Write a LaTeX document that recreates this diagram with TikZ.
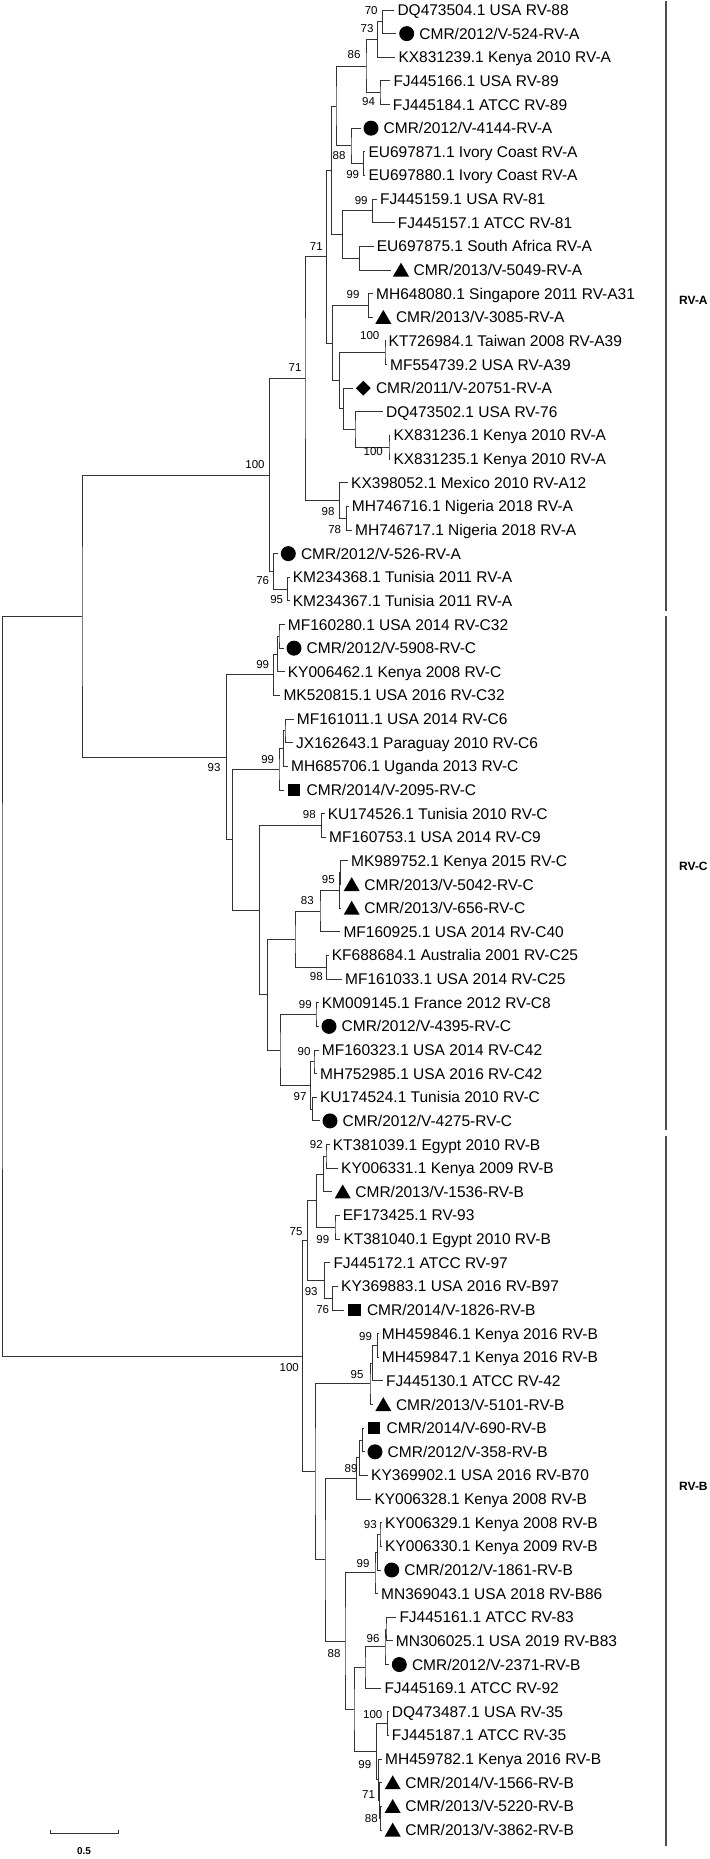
\documentclass[tikz,border=0pt]{standalone}
\usepackage{fontspec}
\setmainfont{Liberation Sans}
\usetikzlibrary{calc,shapes.geometric}
\tikzset{
 br/.style={draw=black!80, line width=0.9pt},
 lab/.style={anchor=base west, inner sep=0pt, font=\fontsize{15.5}{18}\selectfont},
 bs/.style={inner sep=0pt, font=\fontsize{11.5}{13}\selectfont},
 mcirc/.style={circle, fill=black, inner sep=0pt, minimum size=15pt},
 mtri/.style={regular polygon, regular polygon sides=3, fill=black, inner sep=0pt, minimum size=18.5pt, yshift=-1.9pt},
 msq/.style={rectangle, fill=black, inner sep=0pt, minimum size=12.5pt},
 mdia/.style={diamond, fill=black, inner sep=0pt, minimum width=15pt, minimum height=15pt},
 grp/.style={line width=1.6pt, draw=black!70},
 grplab/.style={anchor=west, inner sep=0pt, font=\bfseries\fontsize{12}{14}\selectfont},
 sclab/.style={inner sep=0pt, font=\bfseries\fontsize{10}{12}\selectfont},
}
\newcommand\ly[1]{10+(#1-1)*23.636}
\newcommand\lf[3]{\coordinate (l#1) at (#2,{\ly{#1}}); \node[lab] (t#1) at ([xshift=3pt,yshift=-5.5pt]l#1) {#3};}
\newcommand\lm[4]{\coordinate (l#1) at (#2,{\ly{#1}}); \node[#3] (k#1) at ([xshift=10.5pt]l#1) {}; \node[lab] (t#1) at ([xshift=23pt,yshift=-5.5pt]l#1) {#4};}
\newcommand\inode[4]{%
 \coordinate (m#1) at ($(#3)!0.5!(#4)$);
 \path let \p1=(m#1) in coordinate (#1) at (#2pt,\y1);
 \draw[br] (#3) -| (#1) |- (#4);
}
\newcommand\bsl[4]{\node[bs] (#1) at (#2,#3) {#4};}
\begin{document}
\begin{tikzpicture}[x=1pt,y=-1pt]
\useasboundingbox (0,0) rectangle (709,1859);
% RV-A leaves
\lf{1}{394.3}{DQ473504.1 USA RV-88}
\lm{2}{396.2}{mcirc}{CMR/2012/V-524-RV-A}
\lf{3}{395.3}{KX831239.1 Kenya 2010 RV-A}
\lf{4}{390.3}{FJ445166.1 USA RV-89}
\lf{5}{389.7}{FJ445184.1 ATCC RV-89}
\lm{6}{360.5}{mcirc}{CMR/2012/V-4144-RV-A}
\lf{7}{365.3}{EU697871.1 Ivory Coast RV-A}
\lf{8}{365.3}{EU697880.1 Ivory Coast RV-A}
\lf{9}{377}{FJ445159.1 USA RV-81}
\lf{10}{394.7}{FJ445157.1 ATCC RV-81}
\lf{11}{373.7}{EU697875.1 South Africa RV-A}
\lm{12}{390.5}{mtri}{CMR/2013/V-5049-RV-A}
\lf{13}{373}{MH648080.1 Singapore 2011 RV-A31}
\lm{14}{372.8}{mtri}{CMR/2013/V-3085-RV-A}
\lf{15}{385.5}{KT726984.1 Taiwan 2008 RV-A39}
\lf{16}{387}{MF554739.2 USA RV-A39}
\lm{17}{352.8}{mdia}{CMR/2011/V-20751-RV-A}
\lf{18}{383}{DQ473502.1 USA RV-76}
\lf{19}{390.3}{KX831236.1 Kenya 2010 RV-A}
\lf{20}{390.3}{KX831235.1 Kenya 2010 RV-A}
\lf{21}{348}{KX398052.1 Mexico 2010 RV-A12}
\lf{22}{348.7}{MH746716.1 Nigeria 2018 RV-A}
\lf{23}{352}{MH746717.1 Nigeria 2018 RV-A}
\lm{24}{277.8}{mcirc}{CMR/2012/V-526-RV-A}
\lf{25}{289.7}{KM234368.1 Tunisia 2011 RV-A}
\lf{26}{289.7}{KM234367.1 Tunisia 2011 RV-A}
% RV-C leaves
\lf{27}{284.7}{MF160280.1 USA 2014 RV-C32}
\lm{28}{283.5}{mcirc}{CMR/2012/V-5908-RV-C}
\lf{29}{284.7}{KY006462.1 Kenya 2008 RV-C}
\lf{30}{280.3}{MK520815.1 USA 2016 RV-C32}
\lf{31}{293.7}{MF161011.1 USA 2014 RV-C6}
\lf{32}{293}{JX162643.1 Paraguay 2010 RV-C6}
\lf{33}{288}{MH685706.1 Uganda 2013 RV-C}
\lm{34}{283.5}{msq}{CMR/2014/V-2095-RV-C}
\lf{35}{324.7}{KU174526.1 Tunisia 2010 RV-C}
\lf{36}{326}{MF160753.1 USA 2014 RV-C9}
\lf{37}{348}{MK989752.1 Kenya 2015 RV-C}
\lm{38}{341.2}{mtri}{CMR/2013/V-5042-RV-C}
\lm{39}{341.2}{mtri}{CMR/2013/V-656-RV-C}
\lf{40}{340.3}{MF160925.1 USA 2014 RV-C40}
\lf{41}{328.7}{KF688684.1 Australia 2001 RV-C25}
\lf{42}{342}{MF161033.1 USA 2014 RV-C25}
\lf{43}{318.7}{KM009145.1 France 2012 RV-C8}
\lm{44}{318.5}{mcirc}{CMR/2012/V-4395-RV-C}
\lf{45}{318.7}{MF160323.1 USA 2014 RV-C42}
\lf{46}{317}{MH752985.1 USA 2016 RV-C42}
\lf{47}{317}{KU174524.1 Tunisia 2010 RV-C}
\lm{48}{319.5}{mcirc}{CMR/2012/V-4275-RV-C}
% RV-B leaves
\lf{49}{329.7}{KT381039.1 Egypt 2010 RV-B}
\lf{50}{338}{KY006331.1 Kenya 2009 RV-B}
\lm{51}{332.2}{mtri}{CMR/2013/V-1536-RV-B}
\lf{52}{339.7}{EF173425.1 RV-93}
\lf{53}{340.3}{KT381040.1 Egypt 2010 RV-B}
\lf{54}{330.3}{FJ445172.1 ATCC RV-97}
\lf{55}{338}{KY369883.1 USA 2016 RV-B97}
\lm{56}{343.8}{msq}{CMR/2014/V-1826-RV-B}
\lf{57}{378.7}{MH459846.1 Kenya 2016 RV-B}
\lf{58}{378.7}{MH459847.1 Kenya 2016 RV-B}
\lf{59}{383}{FJ445130.1 ATCC RV-42}
\lm{60}{372.8}{mtri}{CMR/2013/V-5101-RV-B}
\lm{61}{363.5}{msq}{CMR/2014/V-690-RV-B}
\lm{62}{364.5}{mcirc}{CMR/2012/V-358-RV-B}
\lf{63}{368}{KY369902.1 USA 2016 RV-B70}
\lf{64}{371.3}{KY006328.1 Kenya 2008 RV-B}
\lf{65}{382}{KY006329.1 Kenya 2008 RV-B}
\lf{66}{382}{KY006330.1 Kenya 2009 RV-B}
\lm{67}{381.2}{mcirc}{CMR/2012/V-1861-RV-B}
\lf{68}{378}{MN369043.1 USA 2018 RV-B86}
\lf{69}{396.3}{FJ445161.1 ATCC RV-83}
\lf{70}{392.7}{MN306025.1 USA 2019 RV-B83}
\lm{71}{388.8}{mcirc}{CMR/2012/V-2371-RV-B}
\lf{72}{381.3}{FJ445169.1 ATCC RV-92}
\lf{73}{388.7}{DQ473487.1 USA RV-35}
\lf{74}{388.7}{FJ445187.1 ATCC RV-35}
\lf{75}{382}{MH459782.1 Kenya 2016 RV-B}
\lm{76}{382.2}{mtri}{CMR/2014/V-1566-RV-B}
\lm{77}{382.2}{mtri}{CMR/2013/V-5220-RV-B}
\lm{78}{382.2}{mtri}{CMR/2013/V-3862-RV-B}
% RV-A internal nodes
\inode{a70}{382.3}{l1}{l2}
\inode{a73}{377.7}{a70}{l3}
\inode{a94}{380}{l4}{l5}
\inode{a86}{366}{a73}{a94}
\inode{aIv}{363.3}{l7}{l8}
\inode{a4144}{351}{l6}{aIv}
\inode{a336}{336}{a86}{a4144}
\inode{a81}{372.7}{l9}{l10}
\inode{aSA}{359.3}{l11}{l12}
\inode{a342}{342.7}{a81}{aSA}
\inode{aA3}{331.7}{a336}{a342}
\inode{aSg}{368.3}{l13}{l14}
\inode{aTw}{385}{l15}{l16}
\inode{aKe}{389}{l19}{l20}
\inode{aDQ}{355}{l18}{aKe}
\inode{a580}{343.3}{l17}{aDQ}
\inode{a568}{339.3}{aTw}{a580}
\inode{a548}{332.7}{aSg}{a568}
\inode{a326}{326.7}{aA3}{a548}
\inode{aNg}{346.7}{l22}{l23}
\inode{aMx}{339.3}{l21}{aNg}
\inode{a71}{305}{a326}{aMx}
\inode{aTn}{287.7}{l25}{l26}
\inode{a76}{273.3}{l24}{aTn}
\inode{aRoot}{269.3}{a71}{a76}
% RV-C internal nodes
\inode{cP1}{279}{l27}{l28}
\inode{cP2}{277.7}{cP1}{l29}
\inode{c99a}{273.3}{cP2}{l30}
\inode{cQ1}{285}{l31}{l32}
\inode{cQ2}{283.3}{cQ1}{l33}
\inode{c99b}{279}{cQ2}{l34}
\inode{c98a}{321.7}{l35}{l36}
\inode{cIn}{340.3}{l37}{l38}
\inode{c95}{339.3}{cIn}{l39}
\inode{c320}{320}{c95}{l40}
\inode{cKF}{326.7}{l41}{l42}
\inode{c295}{295}{c320}{cKF}
\inode{cFr}{316}{l43}{l44}
\inode{c90}{314}{l45}{l46}
\inode{c97}{312.5}{l47}{l48}
\inode{c311}{310.8}{c90}{c97}
\inode{c280}{280}{cFr}{c311}
\inode{c267}{267.3}{c295}{c280}
\inode{cX}{259.3}{c98a}{c267}
\inode{c232}{232.3}{c99b}{cX}
\inode{cRoot}{226.7}{c99a}{c232}
% RV-B internal nodes
\inode{bR1}{326}{l49}{l50}
\inode{bR2}{323.3}{bR1}{l51}
\inode{b99}{335}{l52}{l53}
\inode{bR3}{316.7}{bR2}{b99}
\inode{bR4}{332.7}{l55}{l56}
\inode{bR5}{324.3}{l54}{bR4}
\inode{b75}{307.3}{bR3}{bR5}
\inode{bS1}{377.7}{l57}{l58}
\inode{bS2}{372.7}{bS1}{l59}
\inode{b95}{370}{bS2}{l60}
\inode{bU1}{362.3}{l61}{l62}
\inode{bU2}{359.3}{bU1}{l63}
\inode{bU3}{356.7}{bU2}{l64}
\inode{bG1}{380}{l65}{l66}
\inode{bG2}{377.7}{bG1}{l67}
\inode{bG3}{375}{bG2}{l68}
\inode{bX1}{386}{l69}{l70}
\inode{bX2}{385}{bX1}{l71}
\inode{bX3}{365}{bX2}{l72}
\inode{bY1}{387.3}{l73}{l74}
\inode{bZ1}{380.3}{l77}{l78}
\inode{bZ2}{379.5}{l76}{bZ1}
\inode{bZ3}{378.5}{l75}{bZ2}
\inode{bY}{376.7}{bY1}{bZ3}
\inode{bW}{354}{bX3}{bY}
\inode{bV}{345}{bG3}{bW}
\inode{b325}{325}{bU3}{bV}
\inode{b315}{315}{b95}{b325}
\inode{bRoot}{302.7}{b75}{b315}
% root
\inode{AC}{82}{aRoot}{cRoot}
\inode{root}{2}{AC}{bRoot}
% bootstrap values
\bsl{v1}{371.2}{10.7}{70}
\bsl{v2}{367}{28.3}{73}
\bsl{v3}{354}{55}{86}
\bsl{v4}{368.5}{102}{94}
\bsl{v5}{339}{155.3}{88}
\bsl{v6}{352.7}{174.2}{99}
\bsl{v7}{361.2}{200.5}{99}
\bsl{v8}{316.3}{246.3}{71}
\bsl{v9}{353}{295}{99}
\bsl{v10}{369.7}{336}{100}
\bsl{v11}{295}{367.5}{71}
\bsl{v12}{373.3}{452}{100}
\bsl{v13}{255}{464.3}{100}
\bsl{v14}{328}{511.7}{98}
\bsl{v15}{334.7}{529.3}{78}
\bsl{v16}{262.7}{581}{76}
\bsl{v17}{276.7}{599.3}{95}
\bsl{v18}{262.7}{664.3}{99}
\bsl{v19}{214}{767.3}{93}
\bsl{v20}{267.7}{759.3}{99}
\bsl{v21}{309.3}{815}{98}
\bsl{v22}{328.3}{880}{95}
\bsl{v23}{307.3}{901}{83}
\bsl{v24}{316.3}{976.7}{98}
\bsl{v25}{305.3}{1005}{99}
\bsl{v26}{304}{1051.7}{90}
\bsl{v27}{300}{1096.7}{97}
\bsl{v28}{316.3}{1145}{92}
\bsl{v29}{296}{1231.7}{75}
\bsl{v30}{322.8}{1240}{99}
\bsl{v31}{311.2}{1291.7}{93}
\bsl{v32}{322.7}{1310}{76}
\bsl{v33}{365.5}{1336.7}{99}
\bsl{v34}{289.3}{1367.7}{100}
\bsl{v35}{357}{1375}{95}
\bsl{v36}{351}{1469}{89}
\bsl{v37}{370.3}{1525}{93}
\bsl{v38}{363}{1564}{99}
\bsl{v39}{373}{1638.3}{96}
\bsl{v40}{334}{1654}{88}
\bsl{v41}{372.7}{1715}{100}
\bsl{v42}{364.8}{1765}{99}
\bsl{v43}{368.5}{1795}{71}
\bsl{v44}{371.3}{1818.3}{88}
% group bars
\coordinate (gA1) at (666,1); \coordinate (gA2) at (666,611);
\coordinate (gC1) at (666,616); \coordinate (gC2) at (666,1130);
\coordinate (gB1) at (666,1136); \coordinate (gB2) at (666,1846);
\draw[grp] (gA1) -- (gA2);
\draw[grp] (gC1) -- (gC2);
\draw[grp] (gB1) -- (gB2);
\node[grplab] (rA) at (679,300) {RV-A};
\node[grplab] (rC) at (679,866) {RV-C};
\node[grplab] (rB) at (679,1486) {RV-B};
% scale bar
\coordinate (s1) at (50,1833); \coordinate (s2) at (118.6,1833);
\draw[br] (s1) -- (s2);
\draw[br] (s1) -- ++(0,-3);
\draw[br] (s2) -- ++(0,-3);
\node[sclab] (sl) at (84,1851) {0.5};
\end{tikzpicture}
\end{document}
